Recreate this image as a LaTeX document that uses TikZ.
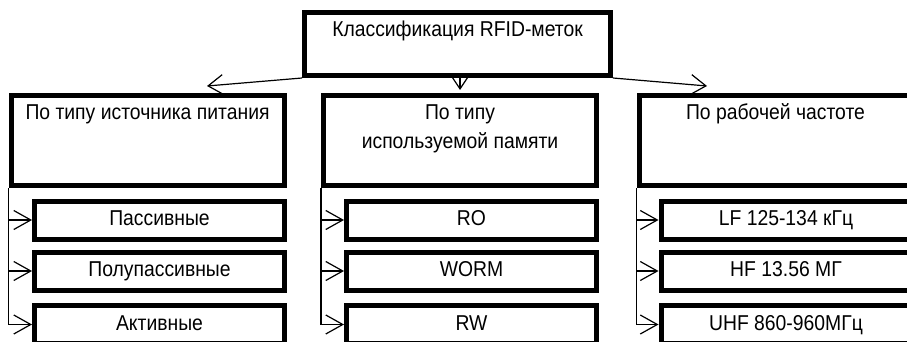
\documentclass[tikz,border=0pt]{standalone}
\usepackage{fontspec}
\setmainfont[FakeStretch=0.9]{Liberation Sans}
\usetikzlibrary{arrows.meta}

\begin{document}
\begin{tikzpicture}[x=1pt,y=-1pt,
    box/.style={draw, line width=5pt, inner sep=0pt, align=center,
      font=\fontsize{21.5}{29}\selectfont},
    headbox/.style={box, minimum width=273pt, minimum height=90pt,
      text height=24.5pt, text depth=65.5pt},
    itembox/.style={box, minimum width=250pt, minimum height=38pt,
      text height=15.5pt, text depth=4pt},
    link/.style={line width=1.2pt, -{Straight Barb[length=15pt,width=20pt]}},
    sublink/.style={line width=1.2pt, -{Straight Barb[length=17pt,width=19pt]}}]

        \useasboundingbox (0,0) rectangle (907,342);

        \node[box, minimum width=306pt, minimum height=63pt,
              text height=24.5pt, text depth=38.5pt] (rfid) at (457.5,44) {Классификация RFID-меток};

        \begin{scope}[every node/.style={headbox}]
          \node (power)  at (147.5,140.5) {По типу источника питания};
          \node[text height=53.5pt, text depth=36.5pt]
                (memory) at (460,140.5)   {По типу\\используемой памяти};
          \node (freq)   at (775.5,140.5) {По рабочей частоте};
        \end{scope}

        \begin{scope}[every node/.style={itembox}]
          \node (passive)  at (159.5,220)   {Пассивные};
          \node (semipass) at (159.5,271)   {Полупассивные};
          \node (active)   at (159.5,324.5) {Активные};
          \node (ro)       at (471.5,220)   {RO};
          \node (worm)     at (471.5,271)   {WORM};
          \node (rw)       at (471.5,324.5) {RW};
          \node (lf)       at (786,220)     {LF 125-134 кГц};
          \node (hf)       at (786,271)     {HF 13.56 МГ};
          \node (uhf)      at (786,324.5)   {UHF 860-960МГц};
        \end{scope}

        \coordinate (powertip)  at (207,86);
        \coordinate (memorytip) at (460,90);
        \coordinate (freqtip)   at (707,86);

        \draw[link] (rfid.south west) -- (powertip);
        \draw[link] (rfid.south -| memory) -- (memorytip);
        \draw[link] (rfid.south east) -- (freqtip);

        \draw[sublink] (power.south west) |- (passive);
        \draw[sublink] (power.south west) |- (semipass);
        \draw[sublink] (power.south west) |- (active);
        \draw[sublink] (memory.south west) |- (ro);
        \draw[sublink] (memory.south west) |- (worm);
        \draw[sublink] (memory.south west) |- (rw);
        \draw[sublink] (freq.south west) |- (lf);
        \draw[sublink] (freq.south west) |- (hf);
        \draw[sublink] (freq.south west) |- (uhf);

      \end{tikzpicture}
\end{document}
